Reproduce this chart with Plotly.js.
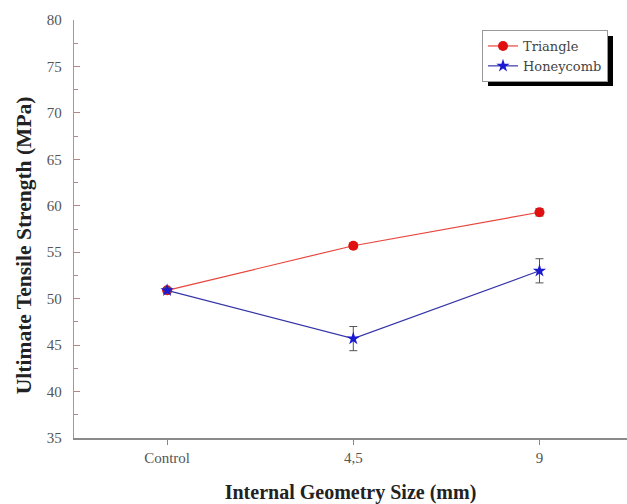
<!DOCTYPE html>
<html>
<head>
<meta charset="utf-8">
<script src="https://cdn.plot.ly/plotly-3.0.1.min.js"></script>
<style>html,body{margin:0;padding:0;background:#fff;}#chart{width:627px;height:504px;}</style>
</head>
<body>
<div id="chart"></div>
<script>
var categories = ["Control", "4,5", "9"];
var triangleValues = [50.9, 55.7, 59.3];
var triangleErrors = [0.3, 0.3, 0.4];
var honeycombValues = [50.9, 45.7, 53.0];
var honeycombErrors = [0.3, 1.3, 1.3];
var yTickValues = [35, 40, 45, 50, 55, 60, 65, 70, 75, 80];

var xPos = categories.map(function(c, i){ return i; });
var serif = "Liberation Serif, Times New Roman, serif";

var traces = [
  {
    x: xPos, y: triangleValues, name: "Triangle", type: "scatter", mode: "lines+markers",
    line: {color: "#e8453c", width: 1.2},
    marker: {symbol: "circle", size: 10, color: "#e01010"},
    error_y: {type: "data", array: triangleErrors, visible: true, color: "#555", thickness: 1, width: 4}
  },
  {
    x: xPos, y: honeycombValues, name: "Honeycomb", type: "scatter", mode: "lines+markers",
    line: {color: "#3535a8", width: 1.2},
    marker: {symbol: "star", size: 10, color: "#1a1ad0"},
    error_y: {type: "data", array: honeycombErrors, visible: true, color: "#555", thickness: 1, width: 4}
  }
];

var L = 74, R = 627, T = 20, B = 437.7;
function px(v){ return (v - L) / (R - L); }
function py(v){ return 1 - (v - T) / (B - T); }

var layout = {
  width: 627, height: 504,
  margin: {l: 74, r: 0, t: 20, b: 66.3},
  paper_bgcolor: "#fff", plot_bgcolor: "#fff",
  showlegend: true,
  font: {family: serif, color: "#555", size: 15},
  xaxis: {
    range: [-0.5, 2.47], tickvals: xPos, ticktext: categories,
    showline: true, linecolor: "#8a8a8a", linewidth: 1.5,
    ticks: "outside", ticklen: 5, tickcolor: "#888", tickwidth: 1,
    showgrid: false, zeroline: false, automargin: false,
    tickfont: {family: serif, size: 15, color: "#555"},
    title: {text: "<b>Internal Geometry Size (mm)</b>", font: {family: serif, size: 20, color: "#222"}, standoff: 22}
  },
  xaxis2: {
    overlaying: "x", side: "top", range: [-0.5, 2.47], tickvals: xPos,
    showticklabels: false, showline: true, linecolor: "#8a8a8a", linewidth: 1.5,
    ticks: "inside", ticklen: 5, tickcolor: "#888", showgrid: false, zeroline: false
  },
  yaxis: {
    range: [35, 80], tickvals: yTickValues,
    showline: true, linecolor: "#b89090", linewidth: 1.2,
    ticks: "inside", ticklen: 6, tickcolor: "#b08888", tickwidth: 1,
    minor: {dtick: 2.5, ticks: "inside", ticklen: 4, tickcolor: "#b08888", showgrid: false},
    showgrid: false, zeroline: false, ticklabelstandoff: 8, automargin: false,
    tickfont: {family: serif, size: 15, color: "#555"}
  },
  annotations: [
    {text: "<b>Ultimate Tensile Strength (MPa)</b>", xref: "paper", yref: "paper",
     x: px(24), y: py(245), xanchor: "center", yanchor: "middle", textangle: -90, showarrow: false,
     font: {family: serif, size: 21.5, color: "#222"}}
  ],
  legend: {
    x: px(482), y: py(30), xanchor: "left", yanchor: "top",
    bgcolor: "#fff", bordercolor: "#999", borderwidth: 1,
    font: {family: "DejaVu Serif, serif", size: 13, color: "#444"},
    tracegroupgap: 0, itemwidth: 30
  },
  shapes: [
    {type: "rect", xref: "paper", yref: "paper", x0: px(488), x1: px(613), y0: py(86), y1: py(36),
     fillcolor: "#000", line: {width: 0}, layer: "above"}
  ]
};

Plotly.newPlot("chart", traces, layout, {displayModeBar: false, staticPlot: true});
</script>
</body>
</html>
